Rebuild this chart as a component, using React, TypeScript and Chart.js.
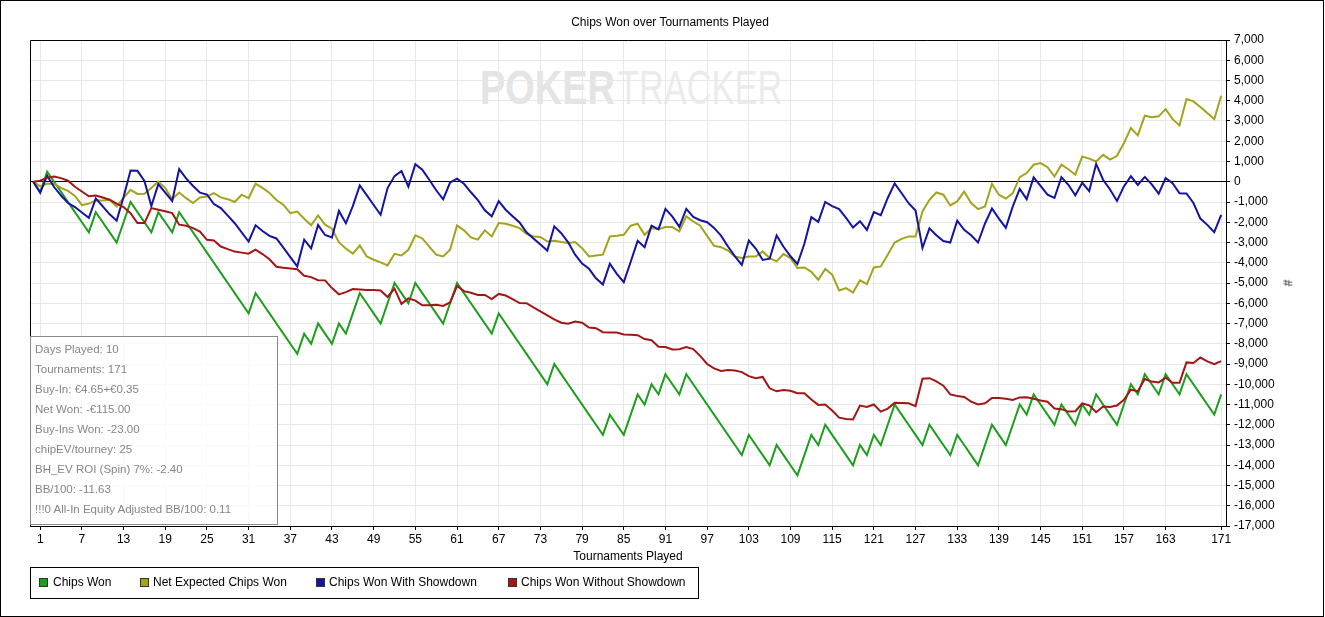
import React, { useEffect, useRef } from "react";
import { Chart, registerables } from "chart.js";

Chart.register(...registerables);

// Cumulative values per tournament (index 0 = start, 1..171 = tournaments)
const chipsWon = [
  0, -500, 500, 0, -500, -1000, -1500, -2000, -2500, -1500,
  -2000, -2500, -3000, -2000, -1000, -1500, -2000, -2500, -1500, -2000,
  -2500, -1500, -2000, -2500, -3000, -3500, -4000, -4500, -5000, -5500,
  -6000, -6500, -5500, -6000, -6500, -7000, -7500, -8000, -8500, -7500,
  -8000, -7000, -7500, -8000, -7000, -7500, -6500, -5500, -6000, -6500,
  -7000, -6000, -5000, -5500, -6000, -5000, -5500, -6000, -6500, -7000,
  -6000, -5000, -5500, -6000, -6500, -7000, -7500, -6500, -7000, -7500,
  -8000, -8500, -9000, -9500, -10000, -9000, -9500, -10000, -10500, -11000,
  -11500, -12000, -12500, -11500, -12000, -12500, -11500, -10500, -11000, -10000,
  -10500, -9500, -10000, -10500, -9500, -10000, -10500, -11000, -11500, -12000,
  -12500, -13000, -13500, -12500, -13000, -13500, -14000, -13000, -13500, -14000,
  -14500, -13500, -12500, -13000, -12000, -12500, -13000, -13500, -14000, -13000,
  -13500, -12500, -13000, -12000, -11000, -11500, -12000, -12500, -13000, -12000,
  -12500, -13000, -13500, -12500, -13000, -13500, -14000, -13000, -12000, -12500,
  -13000, -12000, -11000, -11500, -10500, -11000, -11500, -12000, -11000, -11500,
  -12000, -11000, -11500, -10500, -11000, -11500, -12000, -11000, -10000, -10500,
  -9500, -10000, -10500, -9500, -10000, -10500, -9500, -10000, -10500, -11000,
  -11500, -10500,
];

const netExpectedChipsWon = [
  0, -230, -100, -100, -300, -450, -700, -1150, -1080, -920,
  -920, -890, -1220, -800, -400, -600, -590, -310, 10, -310,
  -860, -530, -810, -1050, -780, -730, -560, -770, -860, -1000,
  -640, -810, -100, -300, -550, -900, -1130, -1550, -1470, -1830,
  -2150, -1660, -2120, -2320, -3000, -3300, -3550, -3150, -3690, -3850,
  -3980, -4130, -3560, -3640, -3360, -2650, -2800, -3200, -3600, -3690,
  -3360, -2160, -2400, -2750, -2860, -2400, -2700, -2040, -2070, -2170,
  -2290, -2570, -2700, -2730, -2950, -2910, -2980, -3030, -2980, -3280,
  -3690, -3640, -3600, -2700, -2670, -2620, -2170, -2070, -2620, -2290,
  -2340, -2240, -2240, -2450, -1710, -1960, -2170, -2670, -3160, -3230,
  -3400, -3690, -3770, -3690, -3690, -3440, -3770, -3930, -3570, -3770,
  -4260, -4230, -4450, -4840, -4310, -4590, -5370, -5250, -5470, -4870,
  -5050, -4230, -4180, -3600, -3000, -2820, -2700, -2700, -1470, -890,
  -530, -640, -1170, -970, -480, -1050, -1350, -1220, -100, -640,
  -830, -560, 230, 430, 840, 920, 720, 260, 840, 620,
  350, 1250, 1140, 1000, 1330, 1090, 1280, 1910, 2650, 2290,
  3260, 3190, 3230, 3590, 3090, 2780, 4080, 3970, 3690, 3390,
  3090, 4250,
];

const chipsWonWithShowdown = [
  0, -550, 300, -260, -680, -1050, -1250, -1520, -1780, -820,
  -1220, -1610, -1920, -750, 550, 540, 40, -1200, -120, -540,
  -950, 620, 170, -210, -540, -630, -1100, -1300, -1670, -2050,
  -2500, -2950, -2150, -2430, -2670, -2800, -3250, -3720, -4180, -2860,
  -3290, -2140, -2630, -2750, -1440, -2050, -1200, -180, -660, -1150,
  -1630, -310, 280, 530, -240, 870, 600, 100, -420, -870,
  -40, 150, -100, -520, -910, -1410, -1710, -960, -1380, -1700,
  -2010, -2500, -2800, -3100, -3400, -2200, -2540, -2990, -3600, -4040,
  -4300, -4770, -5070, -4050, -4550, -4960, -3950, -2920, -3230, -2170,
  -2350, -1340, -1720, -2230, -1340, -1740, -1900, -2000, -2280, -2660,
  -3200, -3680, -4100, -2900, -3300, -3860, -3800, -2650, -3210, -3680,
  -4060, -3060, -1750, -1980, -1000, -1200, -1350, -1780, -2260, -1950,
  -2380, -1500, -1650, -800, -80, -570, -1060, -1420, -3270, -2300,
  -2640, -2930, -3000, -1920, -2370, -2640, -3000, -2060, -1320, -1820,
  -2280, -1220, -350, -860, 220, -200, -640, -800, 230, -150,
  -670, -50, -460, 880, 100, -380, -950, -230, 270, -160,
  240, -130, -590, 180, -70, -570, -580, -1050, -1820, -2130,
  -2490, -1640,
];

const chipsWonWithoutShowdown = [
  0, 50, 200, 260, 180, 50, -250, -480, -720, -680,
  -780, -890, -1080, -1250, -1550, -2040, -2040, -1300, -1380, -1460,
  -1550, -2120, -2170, -2290, -2460, -2870, -2900, -3200, -3330, -3450,
  -3500, -3550, -3350, -3570, -3830, -4200, -4250, -4280, -4320, -4640,
  -4710, -4860, -4870, -5250, -5560, -5450, -5300, -5320, -5340, -5350,
  -5370, -5690, -5280, -6030, -5760, -5870, -6100, -6100, -6080, -6130,
  -5960, -5150, -5400, -5480, -5590, -5590, -5790, -5540, -5620, -5800,
  -5990, -6000, -6200, -6400, -6600, -6800, -6960, -7010, -6900, -6960,
  -7200, -7230, -7430, -7450, -7450, -7540, -7550, -7580, -7770, -7830,
  -8150, -8160, -8280, -8270, -8160, -8260, -8600, -9000, -9220, -9340,
  -9300, -9320, -9400, -9600, -9700, -9640, -10200, -10350, -10290, -10320,
  -10440, -10440, -10750, -11020, -11000, -11300, -11650, -11720, -11740, -11050,
  -11120, -11000, -11350, -11200, -10920, -10930, -10940, -11080, -9730, -9700,
  -9860, -10070, -10500, -10580, -10630, -10860, -11000, -10940, -10680, -10680,
  -10720, -10780, -10650, -10640, -10720, -10800, -10860, -11200, -11230, -11350,
  -11330, -10950, -11040, -11380, -11100, -11120, -11050, -10770, -10270, -10340,
  -9740, -9870, -9910, -9680, -9930, -9930, -8920, -8950, -8680, -8870,
  -9010, -8860,
];

const xTickValues = [
  1, 7, 13, 19, 25, 31, 37, 43, 49, 55, 61, 67, 73, 79, 85, 91, 97, 103,
  109, 115, 121, 127, 133, 139, 145, 151, 157, 163, 171,
];

const seriesNames = [
  "Chips Won",
  "Net Expected Chips Won",
  "Chips Won With Showdown",
  "Chips Won Without Showdown",
];

const infoLines = [
  "Days Played: 10",
  "Tournaments: 171",
  "Buy-In: €4.65+€0.35",
  "Net Won: -€115.00",
  "Buy-Ins Won: -23.00",
  "chipEV/tourney: 25",
  "BH_EV ROI (Spin) 7%: -2.40",
  "BB/100: -11.63",
  "!!!0 All-In Equity Adjusted BB/100: 0.11",
];

const COLORS = ["#1c9e1c", "#a3a31c", "#1414a0", "#a31616"];
const FONT = "'Liberation Sans', Arial, sans-serif";

const W = 1325;
const H = 617;
const AREA = { left: 30, top: 40, right: 1226, bottom: 526 };

const legendPos = [
  { mx: 39, tx: 53 },
  { mx: 140, tx: 153 },
  { mx: 316, tx: 329 },
  { mx: 508, tx: 521 },
];

const framePlugin = {
  id: "frame",
  beforeDatasetsDraw(chart: any) {
    const { ctx, chartArea } = chart;
    ctx.save();
    ctx.strokeStyle = "#000";
    ctx.lineWidth = 1;
    ctx.beginPath();
    ctx.moveTo(chartArea.left + 0.5, chartArea.bottom);
    ctx.lineTo(chartArea.left + 0.5, chartArea.top + 0.5);
    ctx.lineTo(chartArea.right, chartArea.top + 0.5);
    ctx.stroke();
    ctx.restore();
  },
};

export default function App() {
  const canvasRef = useRef<HTMLCanvasElement | null>(null);

  useEffect(() => {
    const canvas = canvasRef.current;
    if (!canvas) return;
    const series = [chipsWon, netExpectedChipsWon, chipsWonWithShowdown, chipsWonWithoutShowdown];
    const chart = new Chart(canvas, {
      type: "line",
      data: {
        datasets: series.map((arr, si) => ({
          label: seriesNames[si],
          data: arr.map((v, i) => ({ x: i, y: v })),
          borderColor: COLORS[si],
          backgroundColor: COLORS[si],
          borderWidth: 2,
          pointRadius: 0,
          tension: 0,
          fill: false,
          order: 4 - si,
        })),
      },
      options: {
        animation: false,
        responsive: false,
        maintainAspectRatio: false,
        layout: { padding: { left: AREA.left, top: AREA.top, right: 0, bottom: 0 } },
        plugins: {
          legend: { display: false },
          title: { display: false },
          tooltip: { enabled: false },
        },
        scales: {
          x: {
            type: "linear",
            min: -0.47,
            max: 171.69,
            afterBuildTicks: (s: any) => {
              s.ticks = xTickValues.map((v) => ({ value: v }));
            },
            afterFit: (s: any) => {
              s.height = H - AREA.bottom;
            },
            ticks: {
              autoSkip: false,
              maxRotation: 0,
              minRotation: 0,
              padding: 2,
              color: "#000",
              font: { family: FONT, size: 12 },
              callback: (v: any) => String(v),
            },
            grid: { color: "#e8e8e8", tickColor: "#000", tickLength: 4, drawTicks: true },
            border: { color: "#000", width: 1 },
          },
          y: {
            position: "right",
            min: -17000,
            max: 7000,
            afterFit: (s: any) => {
              s.width = W - AREA.right;
            },
            ticks: {
              stepSize: 1000,
              padding: 4,
              color: "#000",
              font: { family: FONT, size: 12 },
              callback: (v: any) => Number(v).toLocaleString("en-US"),
            },
            grid: {
              color: (c: any) => (c.tick && c.tick.value === 0 ? "#000" : "#e8e8e8"),
              tickColor: "#000",
              tickLength: 4,
            },
            border: { color: "#000", width: 1 },
          },
        },
      },
      plugins: [framePlugin],
    } as any);
    return () => chart.destroy();
  }, []);

  return (
    <div
      style={{
        position: "absolute",
        left: 0,
        top: 0,
        width: W,
        height: H,
        background: "#fff",
        fontFamily: FONT,
        overflow: "hidden",
      }}
    >
      {/* watermark */}
      <div
        style={{
          position: "absolute",
          left: 480,
          top: 64,
          fontSize: 48,
          lineHeight: "48px",
          fontWeight: 700,
          color: "#e4e4e4",
          transform: "scaleX(0.79)",
          transformOrigin: "left top",
          whiteSpace: "nowrap",
        }}
      >
        POKER
      </div>
      <div
        style={{
          position: "absolute",
          left: 618,
          top: 64,
          fontSize: 48,
          lineHeight: "48px",
          fontWeight: 400,
          color: "#ebebeb",
          transform: "scaleX(0.716)",
          transformOrigin: "left top",
          whiteSpace: "nowrap",
        }}
      >
        TRACKER
      </div>

      <canvas
        ref={canvasRef}
        width={W}
        height={H}
        style={{ position: "absolute", left: 0, top: 0, width: W, height: H }}
      />

      {/* title */}
      <div
        style={{
          position: "absolute",
          left: 0,
          width: 1340,
          top: 15,
          textAlign: "center",
          fontSize: 12,
          lineHeight: "14px",
          color: "#000",
          whiteSpace: "nowrap",
        }}
      >
        Chips Won over Tournaments Played
      </div>

      {/* info box */}
      <div
        style={{
          position: "absolute",
          left: AREA.left,
          top: 336,
          width: 248,
          height: 189,
          boxSizing: "border-box",
          border: "1px solid #8a8a8a",
          background: "rgba(255,255,255,0.75)",
          padding: "2px 0 0 4px",
          color: "#858585",
          fontSize: 11.5,
          lineHeight: "20px",
          whiteSpace: "nowrap",
        }}
      >
        {infoLines.map((t, i) => (
          <div key={i}>{t}</div>
        ))}
      </div>

      {/* x axis title */}
      <div
        style={{
          position: "absolute",
          left: AREA.left,
          width: AREA.right - AREA.left,
          top: 549,
          textAlign: "center",
          fontSize: 12,
          lineHeight: "14px",
          color: "#000",
        }}
      >
        Tournaments Played
      </div>

      {/* y axis title */}
      <div
        style={{
          position: "absolute",
          left: 1284,
          top: 276,
          fontSize: 12,
          lineHeight: "14px",
          color: "#000",
          transform: "rotate(90deg)",
        }}
      >
        #
      </div>

      {/* legend */}
      <div
        style={{
          position: "absolute",
          left: 30,
          top: 567,
          width: 669,
          height: 32,
          boxSizing: "border-box",
          border: "1px solid #000",
        }}
      />
      {seriesNames.map((name, i) => (
        <React.Fragment key={name}>
          <div
            style={{
              position: "absolute",
              left: legendPos[i].mx,
              top: 578,
              width: 9,
              height: 9,
              boxSizing: "border-box",
              border: "1px solid #333",
              background: COLORS[i],
            }}
          />
          <div
            style={{
              position: "absolute",
              left: legendPos[i].tx,
              top: 575,
              fontSize: 12,
              lineHeight: "14px",
              color: "#000",
              whiteSpace: "nowrap",
            }}
          >
            {name}
          </div>
        </React.Fragment>
      ))}

      {/* outer frame */}
      <div
        style={{
          position: "absolute",
          left: 0,
          top: 0,
          width: 1324,
          height: 617,
          boxSizing: "border-box",
          border: "1px solid #000",
          pointerEvents: "none",
        }}
      />
    </div>
  );
}
